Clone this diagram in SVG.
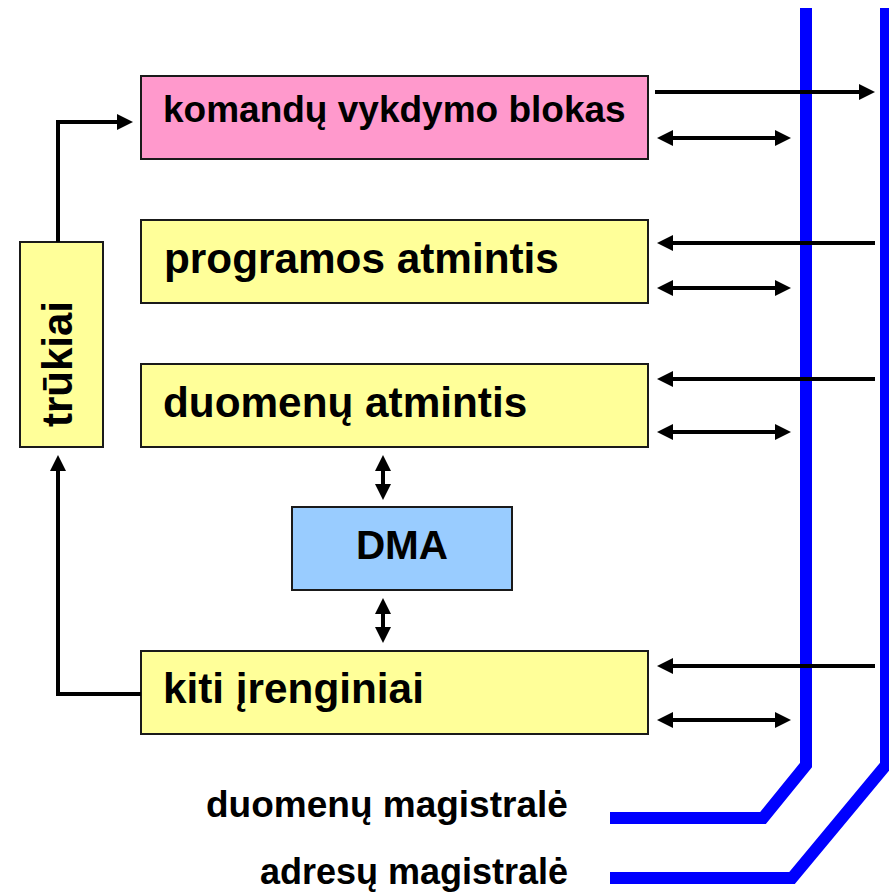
<svg xmlns="http://www.w3.org/2000/svg" width="889" height="893" viewBox="0 0 889 893">
  <style>
    .box { stroke: #1a1a1a; stroke-width: 2; }
    .lbl { font-family: "Liberation Sans", Arial, sans-serif; font-weight: bold; fill: #000; }
    .wire { fill: none; stroke: #000; stroke-width: 4; }
    .bus { fill: none; stroke: #0000ff; stroke-width: 12; stroke-linejoin: miter; }
  </style>
  <defs>
    <marker id="head" viewBox="0 0 16 16" refX="2" refY="8" markerWidth="16" markerHeight="16" markerUnits="userSpaceOnUse" orient="auto-start-reverse">
      <path d="M0,0 L16,8 L0,16 z" fill="#000"/>
    </marker>
  </defs>

  <rect width="889" height="893" fill="#fff"/>

  <!-- system buses -->
  <g id="buses">
    <path class="bus" d="M806,8 V765 L763,818 H610"/>
    <path class="bus" d="M886,8 V765 L792,878 H610"/>
  </g>

  <!-- blocks -->
  <g id="komandu-vykdymo-blokas">
    <rect class="box" x="141" y="76" width="507" height="83" fill="#ff99cc"/>
    <text class="lbl" x="163" y="122" font-size="37">komandų vykdymo blokas</text>
  </g>
  <g id="programos-atmintis">
    <rect class="box" x="141" y="220" width="507" height="83" fill="#ffff99"/>
    <text class="lbl" x="164" y="273" font-size="42.3">programos atmintis</text>
  </g>
  <g id="duomenu-atmintis">
    <rect class="box" x="141" y="364" width="507" height="83" fill="#ffff99"/>
    <text class="lbl" x="163" y="417" font-size="42.3">duomenų atmintis</text>
  </g>
  <g id="dma">
    <rect class="box" x="292" y="507" width="220" height="83" fill="#99ccff"/>
    <text class="lbl" x="402" y="559" font-size="40.5" text-anchor="middle">DMA</text>
  </g>
  <g id="kiti-irenginiai">
    <rect class="box" x="141" y="651" width="507" height="83" fill="#ffff99"/>
    <text class="lbl" x="163" y="703" font-size="42.3">kiti įrenginiai</text>
  </g>
  <g id="trukiai">
    <rect class="box" x="20" y="242" width="83" height="205" fill="#ffff99"/>
    <text class="lbl" transform="translate(72,427) rotate(-90)" font-size="42">trūkiai</text>
  </g>

  <!-- connectors -->
  <g id="connectors">
    <path class="wire" d="M655,92 H861" marker-end="url(#head)"/>
    <path class="wire" d="M671,138 H777" marker-start="url(#head)" marker-end="url(#head)"/>
    <path class="wire" d="M875,243 H671" marker-end="url(#head)"/>
    <path class="wire" d="M671,288 H777" marker-start="url(#head)" marker-end="url(#head)"/>
    <path class="wire" d="M875,379 H671" marker-end="url(#head)"/>
    <path class="wire" d="M671,432 H777" marker-start="url(#head)" marker-end="url(#head)"/>
    <path class="wire" d="M875,666 H671" marker-end="url(#head)"/>
    <path class="wire" d="M671,720 H777" marker-start="url(#head)" marker-end="url(#head)"/>
    <path class="wire" d="M383,469 V486" marker-start="url(#head)" marker-end="url(#head)"/>
    <path class="wire" d="M383,612 V629" marker-start="url(#head)" marker-end="url(#head)"/>
    <path class="wire" d="M58,242 V122 H119" marker-end="url(#head)"/>
    <path class="wire" d="M141,694 H58 V469" marker-end="url(#head)"/>
  </g>

  <!-- bus labels -->
  <g id="bus-labels">
    <text class="lbl" x="206" y="817" font-size="37">duomenų magistralė</text>
    <text class="lbl" x="260" y="884" font-size="36">adresų magistralė</text>
  </g>
</svg>
